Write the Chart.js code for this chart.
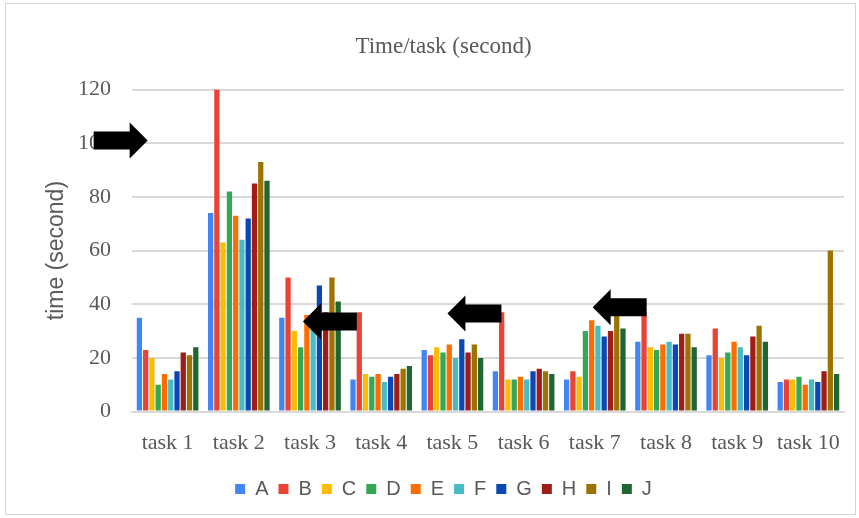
<!DOCTYPE html>
<html lang="en">
    <head>
        <meta charset="UTF-8" />
        <title>Time/task (second)</title>
        <style>
            body {
                margin: 0;
                padding: 0;
                background: #ffffff;
            }

            #frame {
                position: absolute;
                left: 5px;
                top: 3px;
                width: 851px;
                height: 512px;
                border: 1px solid #d4d4d4;
                box-sizing: border-box;
            }

            canvas {
                display: block;
            }
        </style>
    </head>
    <body>
        <div id="frame">
            <canvas id="bar-chart" width="849" height="510"></canvas>
        </div>
    </body>
    <script src="https://cdn.jsdelivr.net/npm/chart.js@4.4.0/dist/chart.umd.min.js"></script>
    <script>
        // data
        const tasks = ["task 1", "task 2", "task 3", "task 4", "task 5", "task 6", "task 7", "task 8", "task 9", "task 10"];
        const A = [35, 74, 35, 12, 23, 15, 12, 26, 21, 11];
        const B = [23, 120, 50, 37, 21, 37, 15, 37, 31, 12];
        const C = [20, 63, 30, 14, 24, 12, 13, 24, 20, 12];
        const D = [10, 82, 24, 13, 22, 12, 30, 23, 22, 13];
        const E = [14, 73, 36, 14, 25, 13, 34, 25, 26, 10];
        const F = [12, 64, 33, 11, 20, 12, 32, 26, 24, 12];
        const G = [15, 72, 47, 13, 27, 15, 28, 25, 21, 11];
        const H = [22, 85, 37, 14, 22, 16, 30, 29, 28, 15];
        const I = [21, 93, 50, 16, 25, 15, 36, 29, 32, 60];
        const J = [24, 86, 41, 17, 20, 14, 31, 24, 26, 14];
        const yTicks = [0, 20, 40, 60, 80, 100, 120];

        const series = { A, B, C, D, E, F, G, H, I, J };
        const colors = ["#4285f4", "#ea4335", "#fbbc04", "#34a853", "#ff6d01", "#46bdc6", "#0b47b5", "#a01d15", "#9c7200", "#1f6632"];

        // black arrows drawn on top (category position of the tip, value, direction)
        const arrows = [
            { at: -0.28, value: 101, dir: 1 },
            { at: 1.9, value: 33.6, dir: -1 },
            { at: 3.93, value: 36.6, dir: -1 },
            { at: 5.97, value: 38.9, dir: -1 },
        ];

        const arrowPlugin = {
            id: "arrows",
            afterDatasetsDraw(chart) {
                const ctx = chart.ctx;
                const x = chart.scales.x;
                const y = chart.scales.y;
                const step = x.getPixelForValue(1) - x.getPixelForValue(0);
                ctx.save();
                ctx.fillStyle = "#000000";
                arrows.forEach((a) => {
                    const tip = x.getPixelForValue(0) + a.at * step;
                    const cy = y.getPixelForValue(a.value);
                    const len = 54, head = 18, hh = 18, bh = 9;
                    const d = -a.dir; // tip -> tail
                    ctx.beginPath();
                    ctx.moveTo(tip, cy);
                    ctx.lineTo(tip + d * head, cy - hh);
                    ctx.lineTo(tip + d * head, cy - bh);
                    ctx.lineTo(tip + d * len, cy - bh);
                    ctx.lineTo(tip + d * len, cy + bh);
                    ctx.lineTo(tip + d * head, cy + bh);
                    ctx.lineTo(tip + d * head, cy + hh);
                    ctx.closePath();
                    ctx.fill();
                });
                ctx.restore();
            },
        };

        const serif = "'Liberation Serif', 'Times New Roman', serif";
        const sans = "'Liberation Sans', Arial, sans-serif";

        let chart = new Chart(document.getElementById("bar-chart"), {
            type: "bar",
            data: {
                labels: tasks,
                datasets: Object.keys(series).map((name, i) => ({
                    label: name,
                    data: series[name],
                    backgroundColor: colors[i],
                    borderWidth: 0,
                    barPercentage: 0.84,
                    categoryPercentage: 0.88,
                })),
            },
            options: {
                responsive: false,
                animation: false,
                layout: {
                    padding: { left: 37, right: 11, top: 14, bottom: 5 },
                },
                plugins: {
                    title: {
                        display: true,
                        text: "Time/task (second)",
                        color: "#595959",
                        font: { family: serif, size: 23, weight: "normal" },
                        padding: { top: 15, bottom: 29 },
                    },
                    legend: {
                        position: "bottom",
                        labels: {
                            color: "#595959",
                            font: { family: sans, size: 20 },
                            boxWidth: 10,
                            boxHeight: 10,
                            padding: 10,
                        },
                    },
                    tooltip: { enabled: false },
                },
                scales: {
                    x: {
                        grid: { display: false },
                        border: { color: "#d9d9d9", width: 2 },
                        ticks: {
                            color: "#595959",
                            font: { family: serif, size: 22 },
                            maxRotation: 0,
                            autoSkip: false,
                            padding: 10,
                        },
                        afterFit: (axis) => {
                            axis.height += 3;
                        },
                    },
                    y: {
                        min: 0,
                        max: 120,
                        afterBuildTicks: (axis) => {
                            axis.ticks = yTicks.map((v) => ({ value: v }));
                        },
                        afterFit: (axis) => {
                            axis.width = 89;
                        },
                        grid: { color: "#d9d9d9", lineWidth: 2, drawTicks: false },
                        border: { display: false },
                        ticks: {
                            color: "#595959",
                            font: { family: serif, size: 22 },
                            padding: 21,
                        },
                        title: {
                            display: true,
                            text: "time (second)",
                            color: "#595959",
                            font: { family: sans, size: 23 },
                            padding: { top: 0, bottom: 0 },
                        },
                    },
                },
            },
            plugins: [arrowPlugin],
        });
    </script>
</html>
